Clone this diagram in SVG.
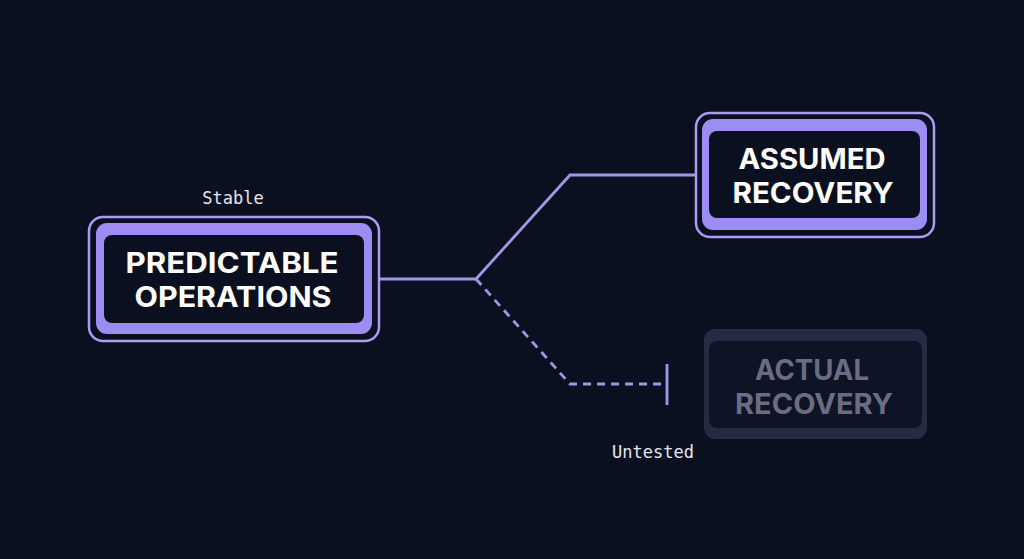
<svg xmlns="http://www.w3.org/2000/svg" width="1024" height="559" viewBox="0 0 1024 559">
  <style>
    .outer { fill: none; stroke: #a99cf2; stroke-width: 2.5; }
    .band { fill: #9d8cf2; }
    .inner { fill: #0b1020; }
    .title { font-family: Inter, "Liberation Sans", sans-serif; font-weight: 700; font-size: 28px; fill: #ffffff; text-anchor: middle; }
    .mono { font-family: "DejaVu Sans Mono", "Liberation Mono", monospace; font-size: 17px; fill: #e6e6ee; text-anchor: middle; }
    .conn { fill: none; stroke: #a196e6; stroke-width: 2.8; stroke-linejoin: miter; }
  </style>
  <rect width="1024" height="559" fill="#0b1020"/>
  <g id="connectors">
    <polyline class="conn" points="379,279 476,279 570,175 695,175"/>
    <polyline class="conn" points="476,279 570,384 666,384" stroke-dasharray="8,6"/>
    <line class="conn" x1="667" y1="364" x2="667" y2="405"/>
  </g>
  <g id="node-predictable">
    <rect class="outer" x="89" y="217" width="290" height="124" rx="14"/>
    <rect class="band" x="96" y="223" width="276" height="111" rx="11"/>
    <rect class="inner" x="104" y="235" width="260" height="88" rx="8"/>
    <text class="title" x="232" y="273" textLength="213" lengthAdjust="spacingAndGlyphs">PREDICTABLE</text>
    <text class="title" x="233" y="307" textLength="197" lengthAdjust="spacingAndGlyphs">OPERATIONS</text>
    <text class="mono" x="233" y="204">Stable</text>
  </g>
  <g id="node-assumed">
    <rect class="outer" x="696" y="113" width="238" height="124" rx="14"/>
    <rect class="band" x="702" y="119" width="225" height="111" rx="11"/>
    <rect class="inner" x="709" y="131" width="211" height="87" rx="8"/>
    <text class="title" x="812" y="169" textLength="147" lengthAdjust="spacingAndGlyphs">ASSUMED</text>
    <text class="title" x="813" y="203" textLength="161" lengthAdjust="spacingAndGlyphs">RECOVERY</text>
  </g>
  <g id="node-actual">
    <rect x="704" y="329" width="223" height="110" rx="11" fill="#262a42"/>
    <rect x="709" y="341" width="213" height="87" rx="8" fill="#0e1326"/>
    <text class="title" x="812" y="380" textLength="114" lengthAdjust="spacingAndGlyphs" style="fill:#6a6d80">ACTUAL</text>
    <text class="title" x="814" y="414" textLength="158" lengthAdjust="spacingAndGlyphs" style="fill:#6a6d80">RECOVERY</text>
  </g>
  <g id="label-untested">
    <text class="mono" x="653" y="458">Untested</text>
  </g>
</svg>
